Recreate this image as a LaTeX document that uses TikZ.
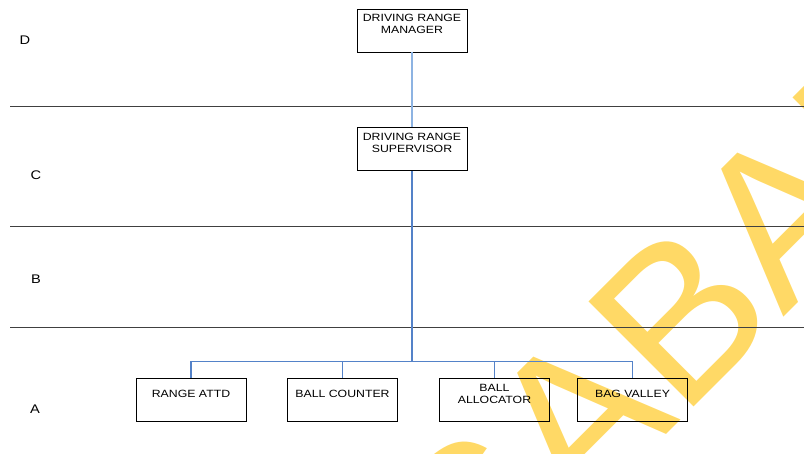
\documentclass[tikz,border=0pt]{standalone}
\usepackage{fontspec}
\setmainfont{Liberation Sans}[FakeStretch=1.17]
\newfontfamily\wmfont{Liberation Sans}
\usetikzlibrary{positioning}

\definecolor{linkblue}{RGB}{84,130,200}
\definecolor{paleblue}{RGB}{141,179,226}
\definecolor{wmyellow}{RGB}{255,217,102}
\definecolor{rulegray}{RGB}{64,64,64}

% box text hung from the top, pushed down by #1
\newcommand{\boxtext}[2][2.5pt]{\parbox[c][37pt][t]{104pt}{\vspace*{#1}\centering #2}}

\tikzset{
  post/.style={draw, line width=0.9pt, inner sep=3pt, font=\fontsize{10.5}{12}\selectfont},
  link/.style={linkblue, line width=1.1pt},
  level/.style={font=\fontsize{12.5}{14}\selectfont},
  divider/.style={rulegray, line width=1pt}
}

\begin{document}
\begin{tikzpicture}[x=1pt,y=-1pt]
  \useasboundingbox (0,0) rectangle (804,453);
  \clip (0,0) rectangle (804,453);

  % Watermark
  \node[wmyellow, rotate=45, font=\wmfont\fontsize{216}{216}\selectfont] (mark) at (684,312) {SABAH};

  % Level dividers
  \draw[divider] (10,106) -- (804,106);
  \draw[divider] (10,226) -- (804,226);
  \draw[divider] (10,327) -- (804,327);

  % Level labels
  \node[level] (lvlD) at (25,40) {D};
  \node[level] (lvlC) at (36,175) {C};
  \node[level] (lvlB) at (36,279) {B};
  \node[level] (lvlA) at (35,409) {A};

  % Posts
  \node[post] (mgr) at (412,30.5) {\boxtext{DRIVING RANGE\\MANAGER}};
  \node[post] (sup) at (412,149) {\boxtext{DRIVING RANGE\\SUPERVISOR}};
  \node[post] (attd) at (191,400) {\boxtext[8.5pt]{RANGE ATTD}};
  \node[post] (counter) at (342.5,400) {\boxtext[8.5pt]{BALL COUNTER}};
  \node[post] (alloc) at (494.5,400) {\boxtext[2.5pt]{BALL\\ALLOCATOR}};
  \node[post] (bag) at (632.5,400) {\boxtext[8.5pt]{BAG VALLEY}};

  % Reporting lines
  \coordinate (bus) at (412,361.5);
  \draw[paleblue, line width=1.1pt] (mgr) -- (sup);
  \draw[link, line width=1.4pt] (sup) -- (bus);
  \draw[link] (bus) -| (attd);
  \draw[link] (bus) -| (counter);
  \draw[link] (bus) -| (alloc);
  \draw[link] (bus) -| (bag);
\end{tikzpicture}
\end{document}
